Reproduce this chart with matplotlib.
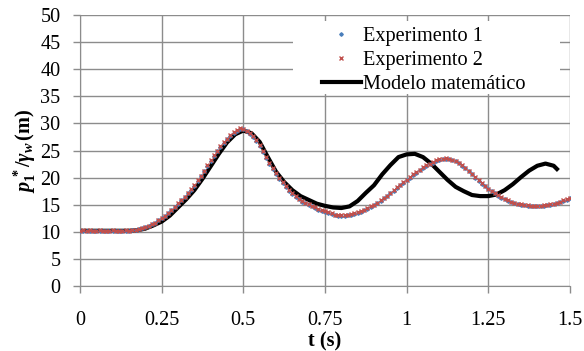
import numpy as np
import matplotlib
matplotlib.use('Agg')
import matplotlib.pyplot as plt
from matplotlib.patches import Rectangle

# tempo (s) das medições, passo de 0.01 s
t_exp = np.round(np.arange(151) * 0.01, 2)

exp1 = [10.2, 10.2, 10.2, 10.2, 10.2, 10.2, 10.2, 10.2, 10.2, 10.2,
        10.2, 10.2, 10.2, 10.2, 10.2, 10.2, 10.3, 10.4, 10.5, 10.7,
        10.9, 11.1, 11.4, 11.7, 12.1, 12.5, 13.0, 13.5, 14.0, 14.6,
        15.2, 15.8, 16.4, 17.1, 17.8, 18.5, 19.4, 20.3, 21.2, 22.2,
        23.1, 24.0, 24.9, 25.7, 26.4, 27.1, 27.7, 28.3, 28.7, 29.0,
        28.9, 28.6, 28.1, 27.5, 26.8, 25.9, 24.8, 23.7, 22.6, 21.6,
        20.6, 19.8, 19.0, 18.2, 17.6, 17.0, 16.5, 16.0, 15.6, 15.3,
        15.0, 14.7, 14.4, 14.1, 13.9, 13.7, 13.5, 13.3, 13.1, 13.0,
        13.0, 13.0, 13.1, 13.2, 13.3, 13.5, 13.7, 14.0, 14.3, 14.6,
        14.9, 15.3, 15.7, 16.2, 16.6, 17.1, 17.6, 18.1, 18.6, 19.1,
        19.5, 20.0, 20.5, 20.9, 21.4, 21.8, 22.2, 22.5, 22.8, 23.1,
        23.3, 23.4, 23.5, 23.4, 23.2, 23.0, 22.7, 22.2, 21.7, 21.2,
        20.6, 20.0, 19.4, 18.9, 18.4, 17.9, 17.5, 17.1, 16.7, 16.3,
        16.0, 15.7, 15.5, 15.3, 15.1, 15.0, 14.9, 14.8, 14.7, 14.7,
        14.7, 14.7, 14.8, 14.9, 15.0, 15.1, 15.3, 15.5, 15.7, 15.9,
        16.2]

exp2 = [10.2, 10.3, 10.2, 10.3, 10.2, 10.2, 10.3, 10.2, 10.2, 10.2,
        10.3, 10.2, 10.2, 10.2, 10.3, 10.2, 10.3, 10.4, 10.5, 10.7,
        10.9, 11.1, 11.4, 11.7, 12.1, 12.5, 13.0, 13.5, 14.0, 14.6,
        15.3, 15.9, 16.5, 17.2, 17.9, 18.6, 19.5, 20.4, 21.3, 22.3,
        23.2, 24.1, 25.0, 25.8, 26.5, 27.2, 27.8, 28.4, 28.8, 29.1,
        29.0, 28.7, 28.2, 27.6, 27.0, 26.1, 25.0, 23.9, 22.8, 21.8,
        20.8, 20.0, 19.2, 18.4, 17.7, 17.1, 16.6, 16.1, 15.7, 15.4,
        15.1, 14.8, 14.5, 14.2, 14.0, 13.8, 13.6, 13.4, 13.2, 13.1,
        13.1, 13.1, 13.2, 13.3, 13.4, 13.6, 13.8, 14.1, 14.4, 14.7,
        15.0, 15.4, 15.8, 16.3, 16.7, 17.2, 17.7, 18.2, 18.7, 19.2,
        19.6, 20.1, 20.6, 21.0, 21.5, 21.9, 22.3, 22.6, 22.9, 23.2,
        23.4, 23.5, 23.6, 23.5, 23.3, 23.1, 22.8, 22.3, 21.8, 21.3,
        20.7, 20.1, 19.5, 19.0, 18.5, 18.0, 17.6, 17.2, 16.8, 16.4,
        16.1, 15.8, 15.6, 15.4, 15.2, 15.1, 15.0, 14.9, 14.8, 14.8,
        14.8, 14.8, 14.9, 15.0, 15.1, 15.2, 15.4, 15.6, 15.8, 16.0,
        16.3]

# modelo matemático
t_mod = [0.0, 0.025, 0.05, 0.075, 0.1, 0.125, 0.15, 0.175, 0.2, 0.225,
         0.25, 0.275, 0.3, 0.325, 0.35, 0.375, 0.4, 0.425, 0.45, 0.475,
         0.5, 0.525, 0.55, 0.575, 0.6, 0.625, 0.65, 0.675, 0.7, 0.725,
         0.75, 0.775, 0.8, 0.825, 0.85, 0.875, 0.9, 0.925, 0.95, 0.975,
         1.0, 1.025, 1.05, 1.075, 1.1, 1.125, 1.15, 1.175, 1.2, 1.225,
         1.25, 1.275, 1.3, 1.325, 1.35, 1.375, 1.4, 1.425, 1.45, 1.46]
modelo = [10.2, 10.2, 10.2, 10.2, 10.2, 10.2, 10.2, 10.3, 10.6, 11.2,
          11.9, 13.0, 14.5, 16.0, 17.7, 19.8, 22.1, 24.4, 26.5, 28.0,
          28.7, 28.2, 26.6, 23.8, 21.1, 19.2, 17.7, 16.6, 15.9, 15.2,
          14.8, 14.5, 14.4, 14.7, 15.7, 17.2, 18.6, 20.6, 22.3, 23.8,
          24.3, 24.4, 23.8, 22.6, 21.1, 19.6, 18.3, 17.5, 16.8, 16.6,
          16.6, 16.9, 17.7, 18.8, 20.1, 21.3, 22.2, 22.6, 22.2, 21.6]

plt.rcParams['font.family'] = ['Liberation Serif', 'DejaVu Serif']
plt.rcParams['mathtext.fontset'] = 'custom'
plt.rcParams['mathtext.it'] = 'Liberation Serif:bold:italic'
plt.rcParams['mathtext.rm'] = 'Liberation Serif:bold'
plt.rcParams['mathtext.bf'] = 'Liberation Serif:bold'

cinza = '#8c8c8c'
tam = 14.6

fig = plt.figure(figsize=(5.84, 3.51), dpi=100)
ax = fig.add_axes([0.137, 0.185, 0.839, 0.772])

ax.plot(t_mod, modelo, color='black', lw=3, zorder=2, label='Modelo matemático')
ax.plot(t_exp, exp1, ls='none', marker='D', ms=1.8, color='#4a7ebb', zorder=3,
        label='Experimento 1')
ax.plot(t_exp, exp2, ls='none', marker='x', ms=3, mew=1, color='#c0504d', zorder=4,
        label='Experimento 2')

ax.set_xlim(0, 1.5)
ax.set_ylim(0, 50)
ax.set_xticks([0, 0.25, 0.5, 0.75, 1, 1.25, 1.5])
ax.set_xticklabels(['0', '0.25', '0.5', '0.75', '1', '1.25', '1.5'])
ax.set_yticks(range(0, 51, 5))
ax.grid(True, color=cinza, lw=1)
ax.set_axisbelow(True)
for lado in ['top', 'right']:
    ax.spines[lado].set_visible(False)
for lado in ['left', 'bottom']:
    ax.spines[lado].set_color(cinza)
ax.tick_params(axis='both', colors=cinza, labelcolor='black', labelsize=tam,
               length=5, width=1)
ax.tick_params(axis='x', pad=13)
ax.tick_params(axis='y', pad=9)

ax.set_xlabel('t (s)', fontsize=tam, fontweight='bold', labelpad=1)
ax.set_ylabel(r'$p_1^{\,*}/\gamma_w\,\mathrm{(m)}$', fontsize=tam, labelpad=2)

# caixa branca da legenda (mais larga que o texto, como no original)
ax.add_patch(Rectangle((0.435, 0.71), 0.545, 0.27, transform=ax.transAxes,
                       facecolor='white', edgecolor='none', zorder=1.5))

h, l = ax.get_legend_handles_labels()
leg = ax.legend([h[1], h[2], h[0]], [l[1], l[2], l[0]], loc='upper right',
                bbox_to_anchor=(0.925, 0.985),
                fontsize=tam, numpoints=1, markerscale=1.0, handlelength=1.9,
                handletextpad=0.1, labelspacing=0.22, borderaxespad=0.3,
                borderpad=0.1, frameon=False)

fig.savefig('out.png', dpi=100)
